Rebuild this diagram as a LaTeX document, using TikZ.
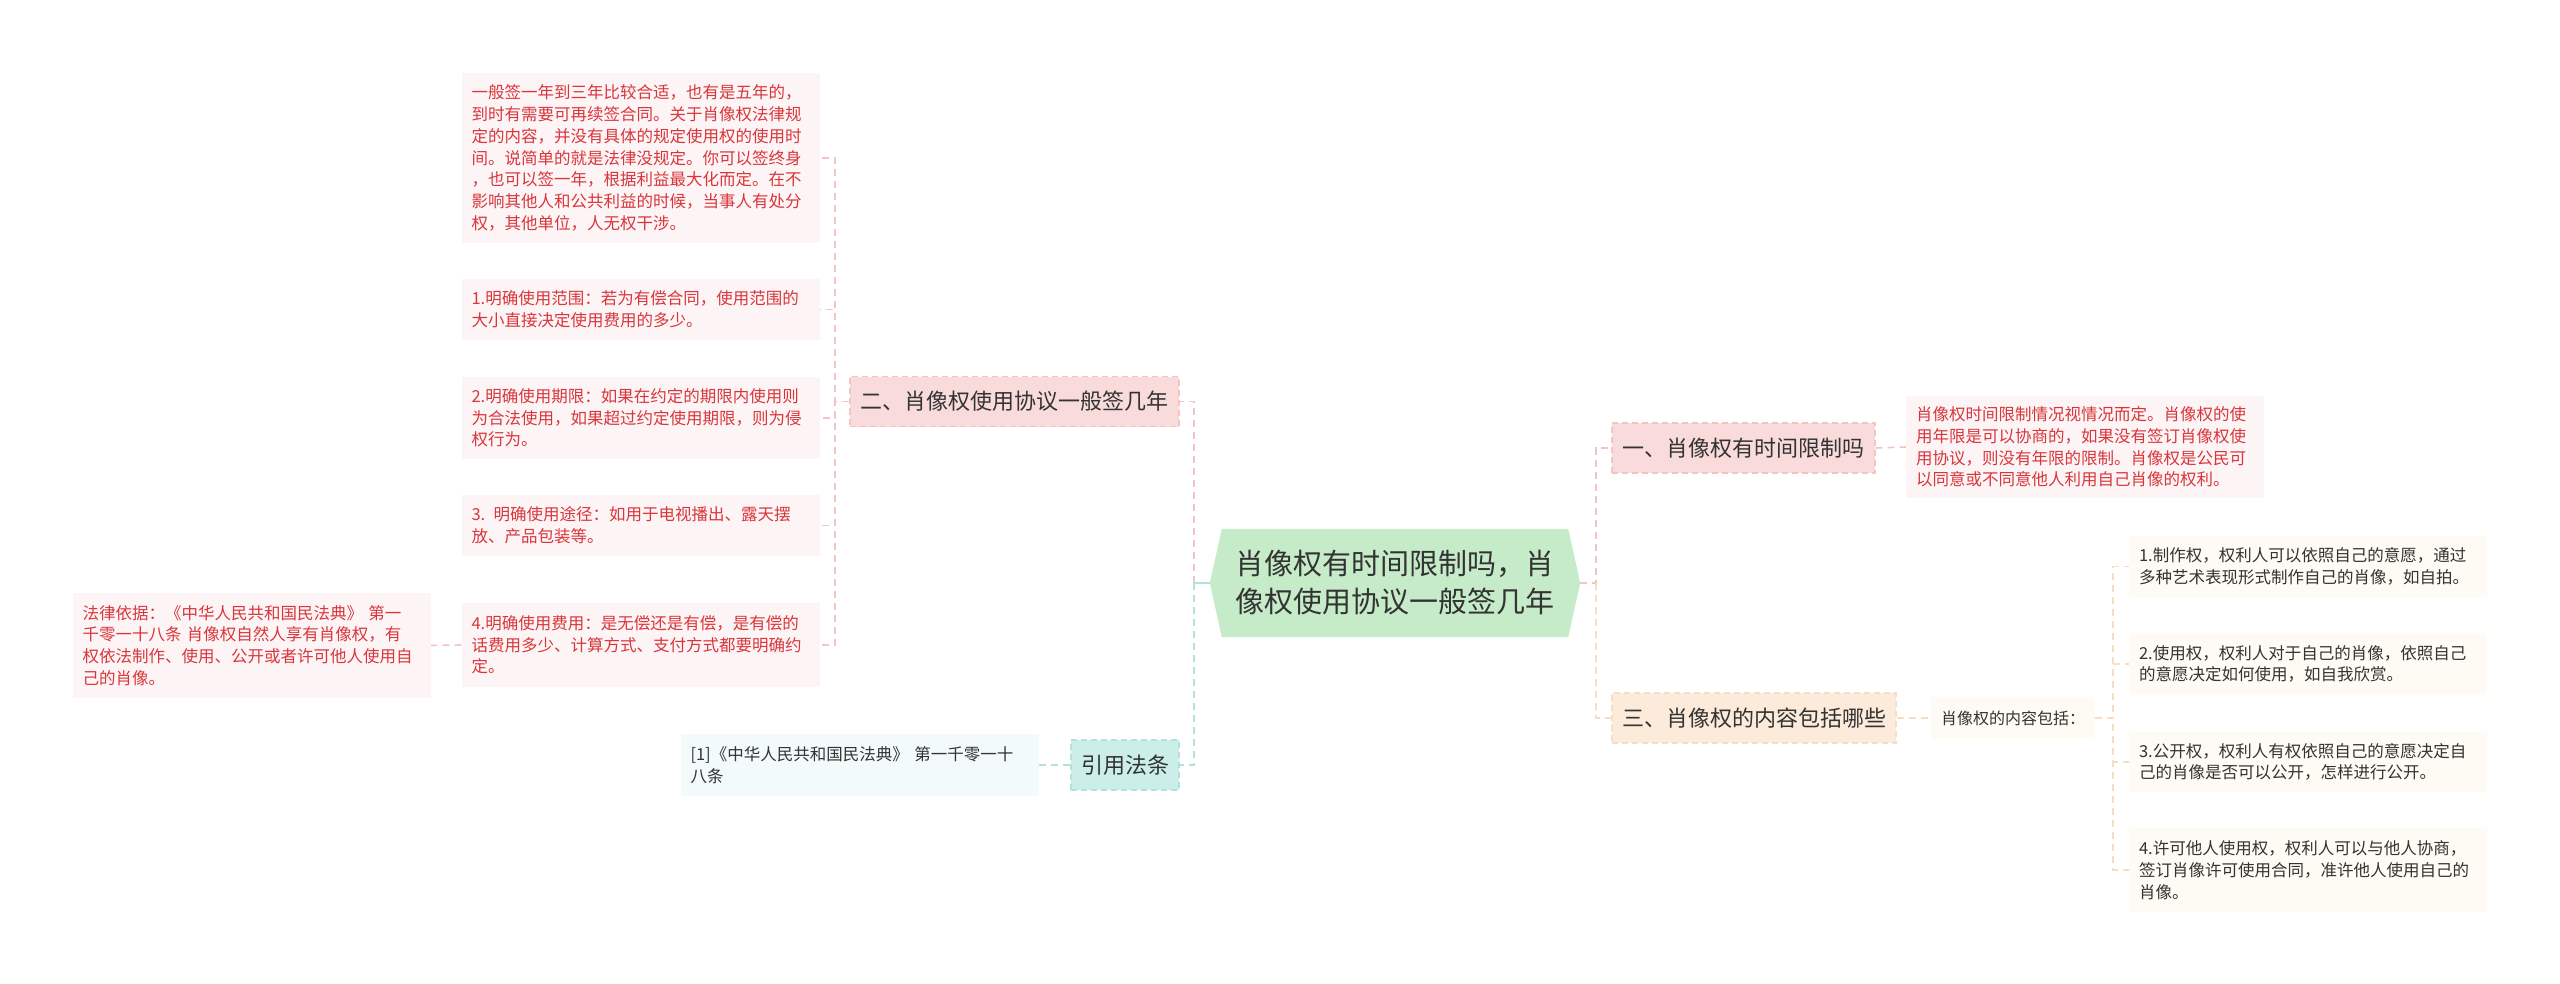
\documentclass[tikz,border=0pt]{standalone}
\usepackage{fontspec}
\setmainfont{Noto Sans CJK SC}
\usetikzlibrary{backgrounds}
\definecolor{txt}{HTML}{333333}
\definecolor{leafred}{HTML}{D8363C}
\definecolor{rootfill}{HTML}{C5EBC8}
\definecolor{pinkfill}{HTML}{F9DBDB}
\definecolor{pinkline}{HTML}{F3C4C4}
\definecolor{peachfill}{HTML}{FCEBDA}
\definecolor{peachline}{HTML}{F6DEC6}
\definecolor{tealfill}{HTML}{CCEEE8}
\definecolor{tealline}{HTML}{B3E2DB}
\definecolor{pinkleaf}{HTML}{FDF5F5}
\definecolor{peachleaf}{HTML}{FEFAF4}
\definecolor{tealleaf}{HTML}{F3FAFA}
\newcommand\myroot{\fontsize{29pt}{38pt}\selectfont}
\newcommand\mytopic{\fontsize{22pt}{26pt}\selectfont}
\newcommand\myleaf{\fontsize{16.5pt}{21.7pt}\selectfont}
\begin{document}
\begin{tikzpicture}[x=1pt,y=-1pt,
  conn/.style={line width=1.6pt, dash pattern=on 7pt off 5pt},
  topic/.style={rectangle, line width=1.3pt, dash pattern=on 6pt off 4pt, minimum height=50pt, inner sep=0pt, font=\mytopic, text=txt},
  leaf/.style={rectangle, inner xsep=10pt, inner ysep=0pt, align=left, font=\myleaf, text width=338pt},
  redleaf/.style={leaf, fill=pinkleaf, text=leafred},
  darkleaf/.style={leaf, fill=peachleaf, text=txt}
]
\useasboundingbox (0,0) rectangle (2560,984);

% root
\node[rectangle, minimum width=346pt, minimum height=108pt, inner sep=0pt, align=center, font=\myroot, text=txt] (root) at (1395,583)
  {肖像权有时间限制吗，肖\\像权使用协议一般签几年};
\coordinate (rootL) at ([xshift=-12pt]root.west);
\coordinate (rootR) at ([xshift=12pt]root.east);
\begin{scope}[on background layer]
\fill[rootfill] (root.north west) -- (root.north east) -- (rootR) -- (root.south east) -- (root.south west) -- (rootL) -- cycle;
\end{scope}

% topics
\node[topic, fill=pinkfill, draw=pinkline, minimum width=329pt] (t2) at (1014.5,401.5) {二、肖像权使用协议一般签几年};
\node[topic, fill=tealfill, draw=tealline, minimum width=108pt] (tc) at (1125,765) {引用法条};
\node[topic, fill=pinkfill, draw=pinkline, minimum width=263pt] (t1) at (1743.5,448) {一、肖像权有时间限制吗};
\node[topic, fill=peachfill, draw=peachline, minimum width=284pt] (t3) at (1754,718) {三、肖像权的内容包括哪些};

% left leaves
\node[redleaf, minimum height=170pt] (a1) at (640.5,158) {一般签一年到三年比较合适，也有是五年的，\\到时有需要可再续签合同。关于肖像权法律规\\定的内容，并没有具体的规定使用权的使用时\\间。说简单的就是法律没规定。你可以签终身\\，也可以签一年，根据利益最大化而定。在不\\影响其他人和公共利益的时候，当事人有处分\\权，其他单位，人无权干涉。};
\node[redleaf, minimum height=61pt] (a2) at (640.5,309.5) {1.明确使用范围：若为有偿合同，使用范围的\\大小直接决定使用费用的多少。};
\node[redleaf, minimum height=82pt] (a3) at (640.5,418) {2.明确使用期限：如果在约定的期限内使用则\\为合法使用，如果超过约定使用期限，则为侵\\权行为。};
\node[redleaf, minimum height=61pt] (a4) at (640.5,525.5) {3. 明确使用途径：如用于电视播出、露天摆\\放、产品包装等。};
\node[redleaf, minimum height=84pt] (a5) at (640.5,645) {4.明确使用费用：是无偿还是有偿，是有偿的\\话费用多少、计算方式、支付方式都要明确约\\定。};
\node[redleaf, minimum height=105pt] (law) at (251.5,645.5) {法律依据：《中华人民共和国民法典》 第一\\千零一十八条 肖像权自然人享有肖像权，有\\权依法制作、使用、公开或者许可他人使用自\\己的肖像。};
\node[leaf, fill=tealleaf, text=txt, minimum height=62pt] (cc) at (859.5,765) {[1]《中华人民共和国民法典》 第一千零一十\\八条};

% right leaves
\node[redleaf, minimum height=102pt] (r1) at (2085,447) {肖像权时间限制情况视情况而定。肖像权的使\\用年限是可以协商的，如果没有签订肖像权使\\用协议，则没有年限的限制。肖像权是公民可\\以同意或不同意他人利用自己肖像的权利。};
\node[rectangle, fill=peachleaf, text=txt, inner xsep=10pt, inner ysep=0pt, minimum height=42pt, font=\fontsize{16pt}{20pt}\selectfont] (r3h) at (2013,718) {肖像权的内容包括：};
\node[darkleaf, minimum height=61pt] (b1) at (2308,566.5) {1.制作权，权利人可以依照自己的意愿，通过\\多种艺术表现形式制作自己的肖像，如自拍。};
\node[darkleaf, minimum height=62pt] (b2) at (2308,664) {2.使用权，权利人对于自己的肖像，依照自己\\的意愿决定如何使用，如自我欣赏。};
\node[darkleaf, minimum height=60pt] (b3) at (2308,762) {3.公开权，权利人有权依照自己的意愿决定自\\己的肖像是否可以公开，怎样进行公开。};
\node[darkleaf, minimum height=84pt] (b4) at (2308,870) {4.许可他人使用权，权利人可以与他人协商，\\签订肖像许可使用合同，准许他人使用自己的\\肖像。};

% junction coordinates
\coordinate (lx) at (1194,583);
\coordinate (rx) at (1596,583);
\coordinate (t2j) at (835,401.5);
\coordinate (r3j) at (2113,718);

% connectors
\begin{scope}[on background layer]
\draw[conn, pinkline] (lx) |- (t2.east);
\draw[conn, tealline] (lx) |- (tc.east);
\draw[line width=1.6pt, tealline] (rootL) -- (lx);
\draw[conn, pinkline] (rootR) -- (rx) |- (t1.west);
\draw[conn, peachline] (rx) |- (t3.west);
\foreach \n in {a1,a2,a3,a4,a5}{\draw[conn, pinkline] (t2.west) -- (t2j) |- (\n.east);}
\draw[conn, pinkline] (a5.west) -- (law.east);
\draw[conn, tealline] (tc.west) -- (cc.east);
\draw[conn, pinkline] (t1.east) -- (r1.west);
\draw[conn, peachline] (t3.east) -- (r3h.west);
\foreach \n in {b1,b2,b3,b4}{\draw[conn, peachline] (r3h.east) -- (r3j) |- (\n.west);}
\end{scope}
\end{tikzpicture}
\end{document}
